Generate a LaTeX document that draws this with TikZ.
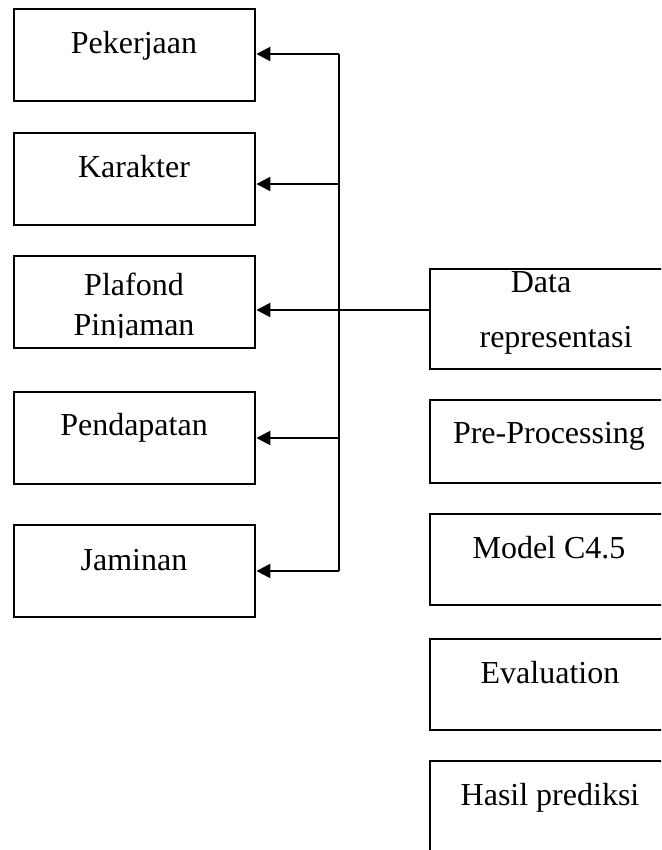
\documentclass[tikz,border=0pt]{standalone}
\usepackage{fontspec}
\setmainfont{Liberation Serif}
\usetikzlibrary{arrows.meta}
\begin{document}
\begin{tikzpicture}[x=1pt,y=-1pt,
  box/.style={draw, line width=2.4pt, minimum width=241pt, minimum height=92pt, inner sep=0pt, anchor=north west},
  rbox/.style={draw, line width=2.4pt, minimum width=270pt, inner sep=0pt, anchor=north west},
  txt/.style={font=\fontsize{32}{38}\selectfont, inner sep=0pt, anchor=base},
  arr/.style={line width=2.4pt, -{Triangle[length=14pt,width=14pt]}},
  ln/.style={line width=2.4pt}]
\useasboundingbox (0,0) rectangle (661,850);
\clip (0,0) rectangle (661,850);
% left boxes
\node[box] (pek) at (13,8) {};
\node[box] (kar) at (13,132) {};
\node[box] (pla) at (13,255) {};
\node[box] (pen) at (13,391) {};
\node[box] (jam) at (13,524) {};
% right boxes (cut by the right margin)
\node[rbox, minimum height=100pt] (dat) at (429,268) {};
\node[rbox, minimum height=83pt] (pre) at (429,399) {};
\node[rbox, minimum height=91pt] (mod) at (429,513) {};
\node[rbox, minimum height=91pt] (eva) at (429,638) {};
\node[rbox, minimum height=120pt] (has) at (429,760) {};
% texts
\node[txt] (tpek) at (134,54) {Pekerjaan};
\node[txt] (tkar) at (134,178) {Karakter};
\node[txt] (tpla) at (134,295) {Plafond};
\begin{scope}
\clip (13,255) rectangle (254,337);
\node[txt] (tpin) at (134,335) {Pinjaman};
\end{scope}
\node[txt] (tpen) at (134,435) {Pendapatan};
\node[txt] (tjam) at (134,570) {Jaminan};
\node[txt] (tdat) at (541,292) {Data};
\node[txt] (trep) at (556,347) {representasi};
\node[txt] (tpre) at (549,443) {Pre-Processing};
\node[txt] (tmod) at (549,558) {Model C4.5};
\node[txt] (teva) at (550,683) {Evaluation};
\node[txt] (thas) at (550,805) {Hasil prediksi};
% connectors
\coordinate (t1) at (339,54);
\coordinate (t2) at (339,184);
\coordinate (t4) at (339,438);
\coordinate (t5) at (339,571);
\coordinate (m) at (429,310);
\draw[ln] (t1) -- (t5);
\draw[arr] (t1) -- (t1 -| pek.east);
\draw[arr] (t2) -- (t2 -| kar.east);
\draw[arr] (m) -- (m -| pla.east);
\draw[arr] (t4) -- (t4 -| pen.east);
\draw[arr] (t5) -- (t5 -| jam.east);
\end{tikzpicture}
\end{document}
